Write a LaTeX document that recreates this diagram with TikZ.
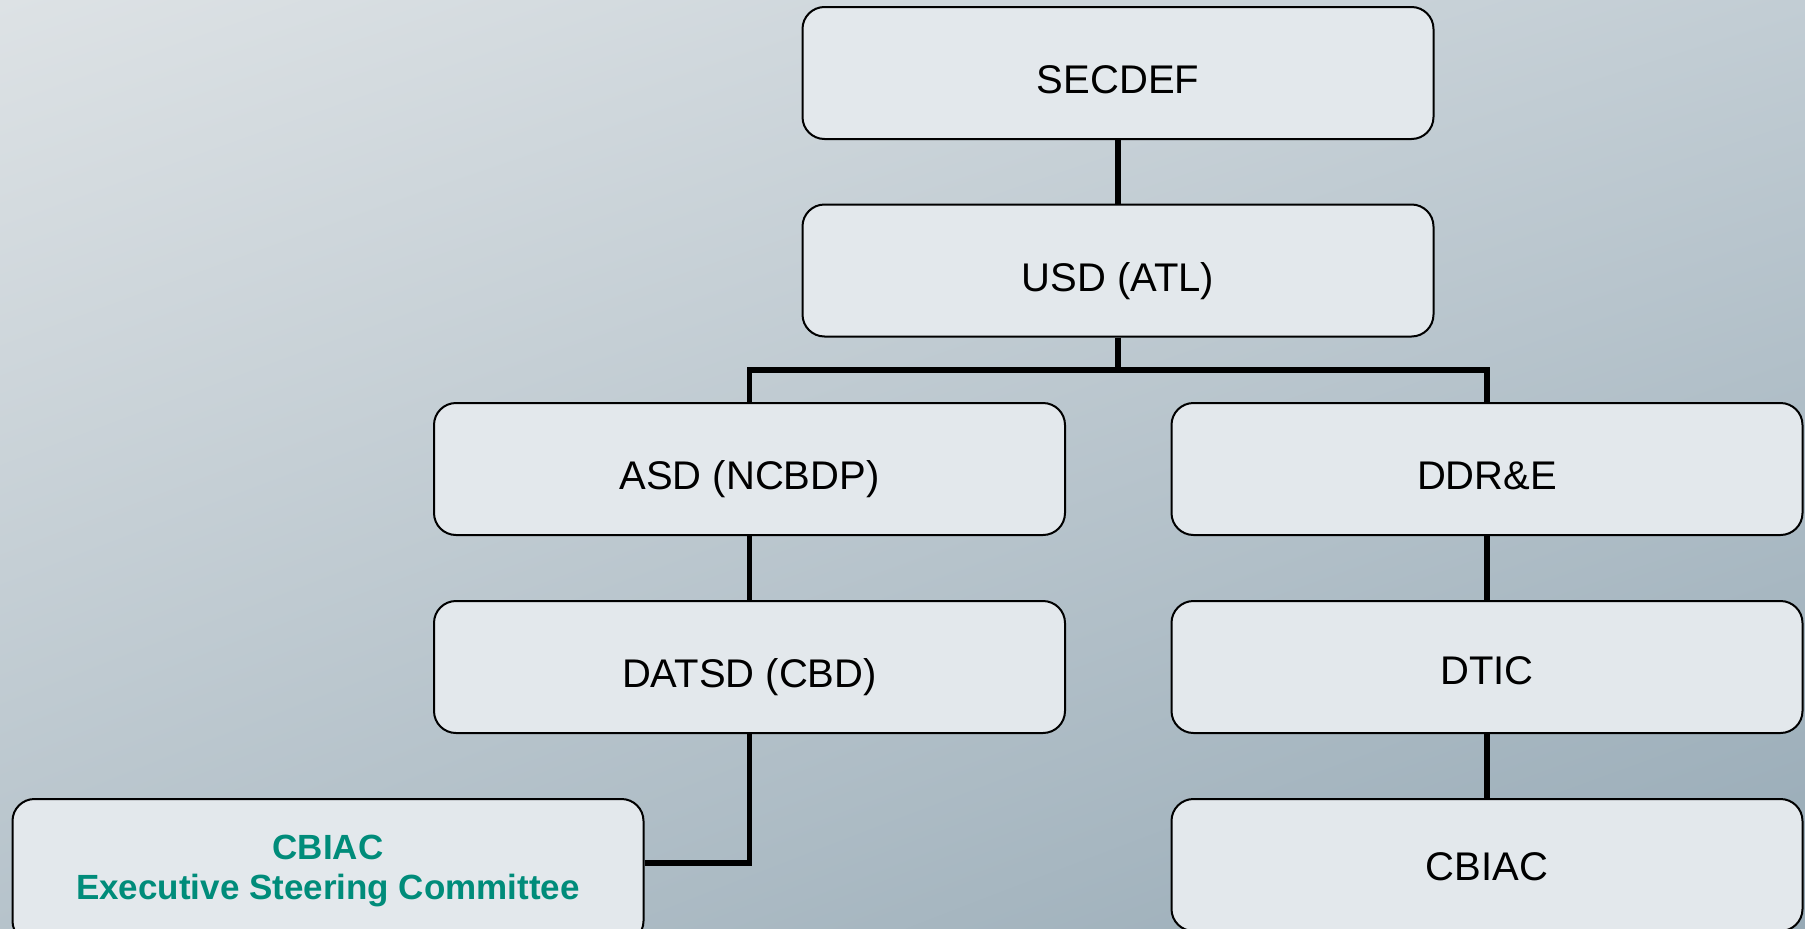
\documentclass[tikz,border=0pt]{standalone}
\usepackage{fontspec}
\setmainfont{Liberation Sans}
\usetikzlibrary{shadings}
\definecolor{boxfill}{HTML}{E3E8EC}
\definecolor{escgreen}{HTML}{008C7A}
\definecolor{bgtl}{HTML}{DDE2E5}
\definecolor{bgtr}{HTML}{C2CDD4}
\definecolor{bgbl}{HTML}{B6C3CB}
\definecolor{bgbr}{HTML}{97AAB6}
\begin{document}
\begin{tikzpicture}[x=1pt,y=-1pt,
  orgbox/.style={draw=black, line width=2pt, fill=boxfill, rounded corners=22pt,
    minimum width=631pt, minimum height=132pt, inner sep=0pt, align=center,
    text height=41pt, text depth=0pt, font=\fontsize{40}{46}\selectfont},
  link/.style={line width=5.5pt, black}]
\useasboundingbox (0,0) rectangle (1805,929);
\shade[upper left=bgtl, upper right=bgtr, lower left=bgbl, lower right=bgbr] (0,0) rectangle (1805,929);
\node[orgbox] (secdef) at (1118,73) {SECDEF};
\node[orgbox] (usd) at (1118,270.5) {USD (ATL)};
\node[orgbox] (asd) at (749.5,469) {ASD (NCBDP)};
\node[orgbox] (ddre) at (1487,469) {DDR\&E};
\node[orgbox] (datsd) at (749.5,667) {DATSD (CBD)};
\node[orgbox, text height=34pt] (dtic) at (1487,667) {DTIC};
\node[orgbox, minimum height=144pt, text height=, text depth=, text=escgreen, font=\fontsize{35}{40}\selectfont\bfseries] (esc) at (328,871) {CBIAC\\Executive Steering Committee};
\node[orgbox, text height=31pt] (cbiac) at (1487,865) {CBIAC};
\coordinate (bar) at (1118,370);
\draw[link] (secdef.south) -- (usd.north);
\draw[link] (usd.south) -- (bar);
\draw[link] (asd.north) |- (bar) -| (ddre.north);
\draw[link] (asd.south) -- (datsd.north);
\draw[link] (datsd.south) |- ([yshift=8pt]esc.east);
\draw[link] (ddre.south) -- (dtic.north);
\draw[link] (dtic.south) -- (cbiac.north);
\end{tikzpicture}
\end{document}
